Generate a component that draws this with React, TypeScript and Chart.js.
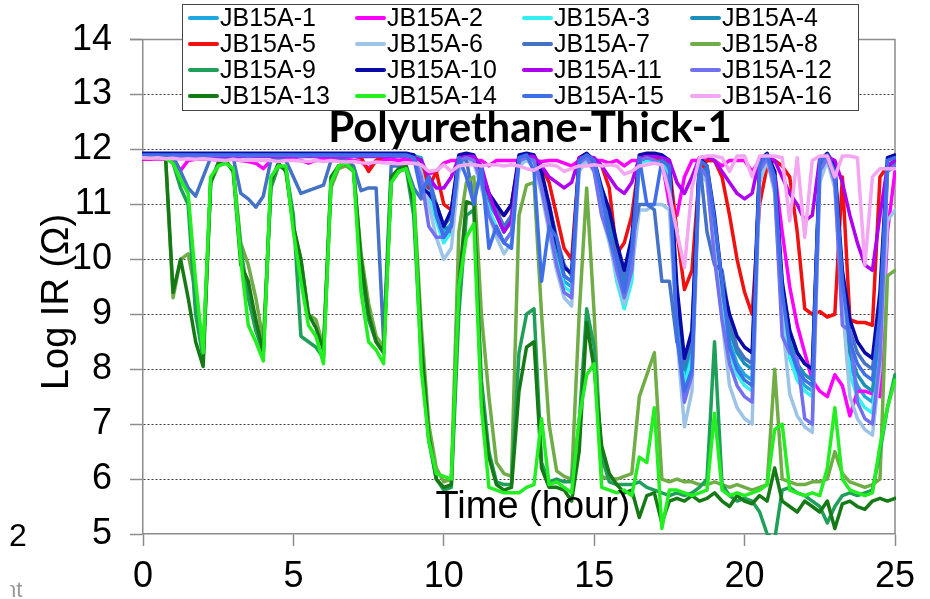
import React, { useEffect, useRef } from 'react';
import { Chart, registerables } from 'chart.js';

Chart.register(...registerables);

const TIME = [
  0, 0.25, 0.5, 0.75, 1, 1.25, 1.5, 1.75, 2, 2.25, 2.5, 2.75, 3, 3.25, 3.5, 3.75,
  4, 4.25, 4.5, 4.75, 5, 5.25, 5.5, 5.75, 6, 6.25, 6.5, 6.75, 7, 7.25, 7.5, 7.75,
  8, 8.25, 8.5, 8.75, 9, 9.25, 9.5, 9.75, 10, 10.25, 10.5, 10.75, 11, 11.25, 11.5, 11.75,
  12, 12.25, 12.5, 12.75, 13, 13.25, 13.5, 13.75, 14, 14.25, 14.5, 14.75, 15, 15.25, 15.5, 15.75,
  16, 16.25, 16.5, 16.75, 17, 17.25, 17.5, 17.75, 18, 18.25, 18.5, 18.75, 19, 19.25, 19.5, 19.75,
  20, 20.25, 20.5, 20.75, 21, 21.25, 21.5, 21.75, 22, 22.25, 22.5, 22.75, 23, 23.25, 23.5, 23.75,
  24, 24.25, 24.5, 24.75, 25,
];

const SERIES_NAMES = [
  'JB15A-1', 'JB15A-2', 'JB15A-3', 'JB15A-4',
  'JB15A-5', 'JB15A-6', 'JB15A-7', 'JB15A-8',
  'JB15A-9', 'JB15A-10', 'JB15A-11', 'JB15A-12',
  'JB15A-13', 'JB15A-14', 'JB15A-15', 'JB15A-16',
];

const SERIES_COLORS = [
  '#1FA8E0', '#FF00FF', '#33F0F0', '#1A8FB8',
  '#F01010', '#9DC3E6', '#4472C4', '#70AD47',
  '#1FA05A', '#0A0AA8', '#B000F0', '#7070F0',
  '#157A15', '#22EE22', '#3F6FE8', '#F4A6F2',
];

const JB15A_1 = [
  11.9, 11.9, 11.91, 11.9, 11.9, 11.89, 11.9, 11.9, 11.9, 11.91, 11.9, 11.9, 11.9, 11.89, 11.9, 11.9,
  11.9, 11.9, 11.9, 11.89, 11.9, 11.9, 11.9, 11.9, 11.89, 11.9, 11.9, 11.9, 11.9, 11.9, 11.88, 11.9,
  11.9, 11.9, 11.89, 11.9, 11.88, 11.85, 11.3, 10.9, 10.5, 10.65, 11.8, 11.85, 11.8, 11.5, 11.0, 10.8,
  10.5, 10.7, 11.8, 11.85, 11.8, 11.4, 10.8, 10.1, 9.6, 9.5, 11.75, 11.85, 11.7, 11.0, 10.6, 9.9,
  9.5, 10.0, 11.8, 11.85, 11.85, 11.8, 11.6, 9.1, 7.9, 8.4, 11.75, 11.5, 10.5, 9.3, 8.5, 8.1,
  7.9, 7.8, 11.7, 11.85, 11.4, 9.3, 8.3, 7.9, 7.7, 7.6, 11.7, 11.85, 11.5, 9.5, 8.1, 7.7,
  7.5, 7.4, 8.6, 11.7, 11.75,
];

const JB15A_2 = [
  11.82, 11.82, 11.83, 11.82, 11.8, 11.62, 11.8, 11.82, 11.82, 11.82, 11.81, 11.82, 11.82, 11.8, 11.78, 11.75,
  11.65, 11.8, 11.82, 11.82, 11.82, 11.8, 11.75, 11.8, 11.82, 11.82, 11.82, 11.82, 11.8, 11.78, 11.65, 11.8,
  11.82, 11.82, 11.8, 11.82, 11.8, 11.75, 11.55, 11.6, 11.75, 11.8, 11.8, 11.8, 11.8, 11.8, 11.7, 11.8,
  11.8, 11.8, 11.8, 11.8, 11.8, 11.78, 11.8, 11.8, 11.75, 11.7, 11.8, 11.8, 11.8, 11.8, 11.75, 11.8,
  11.7, 11.8, 11.8, 11.8, 11.8, 11.8, 11.0, 10.8, 11.5, 11.8, 11.8, 11.8, 11.8, 11.7, 11.8, 11.8,
  11.8, 11.6, 11.8, 11.8, 11.6, 10.5, 9.5, 8.8, 8.3, 7.8, 7.6, 7.5, 7.9, 7.7, 7.15, 7.6,
  7.6, 7.55, 7.5, 10.5, 11.6,
];

const JB15A_3 = [
  11.88, 11.88, 11.89, 11.88, 11.88, 11.88, 11.87, 11.88, 11.88, 11.88, 11.88, 11.89, 11.88, 11.88, 11.87, 11.88,
  11.88, 11.88, 11.88, 11.88, 11.88, 11.87, 11.88, 11.88, 11.88, 11.88, 11.88, 11.88, 11.88, 11.87, 11.88, 11.88,
  11.88, 11.88, 11.88, 11.87, 11.85, 11.7, 11.2, 10.7, 10.3, 10.5, 11.75, 11.85, 11.8, 11.4, 10.9, 10.6,
  10.3, 10.5, 11.75, 11.85, 11.75, 11.3, 10.7, 10.0, 9.5, 9.4, 11.7, 11.85, 11.6, 10.9, 10.4, 9.6,
  9.1, 9.6, 11.75, 11.8, 11.8, 11.75, 11.5, 8.9, 7.7, 8.2, 11.7, 11.4, 10.4, 9.2, 8.3, 7.9,
  7.7, 7.6, 11.65, 11.85, 11.3, 9.2, 8.2, 7.8, 7.6, 7.5, 11.6, 11.85, 11.4, 9.4, 7.9, 7.5,
  7.3, 7.2, 8.4, 11.6, 11.7,
];

const JB15A_4 = [
  11.9, 11.91, 11.9, 11.9, 11.9, 11.9, 11.9, 11.91, 11.9, 11.9, 11.9, 11.9, 11.91, 11.9, 11.9, 11.9,
  11.9, 11.9, 11.91, 11.9, 11.9, 11.9, 11.9, 11.9, 11.9, 11.91, 11.9, 11.9, 11.9, 11.9, 11.9, 11.9,
  11.91, 11.9, 11.9, 11.9, 11.9, 11.8, 11.4, 11.0, 10.6, 10.5, 11.7, 11.85, 11.85, 11.6, 11.1, 10.8,
  10.5, 10.8, 11.8, 11.85, 11.85, 11.5, 10.9, 10.2, 9.7, 9.6, 11.8, 11.85, 11.75, 11.1, 10.7, 10.0,
  9.6, 10.1, 11.8, 11.85, 11.85, 11.8, 11.7, 9.3, 8.0, 8.5, 11.8, 11.6, 10.6, 9.4, 8.7, 8.3,
  8.1, 8.0, 11.7, 11.85, 11.5, 9.4, 8.5, 8.1, 7.9, 7.8, 11.7, 11.85, 11.6, 9.6, 8.3, 7.9,
  7.7, 7.6, 8.8, 11.7, 11.8,
];

const JB15A_5 = [
  11.88, 11.88, 11.88, 11.88, 11.88, 11.88, 11.88, 11.88, 11.88, 11.88, 11.88, 11.88, 11.88, 11.88, 11.88, 11.88,
  11.88, 11.88, 11.88, 11.88, 11.88, 11.88, 11.88, 11.88, 11.88, 11.88, 11.88, 11.88, 11.88, 11.85, 11.6, 11.8,
  11.88, 11.88, 11.88, 11.88, 11.85, 11.8, 11.3, 11.6, 11.0, 10.9, 11.8, 11.85, 11.85, 11.5, 11.2, 10.9,
  10.8, 11.0, 11.8, 11.85, 11.85, 11.7, 11.4, 10.8, 10.2, 10.0, 11.8, 11.85, 11.8, 11.7, 11.3, 10.1,
  10.3, 10.8, 11.8, 11.85, 11.85, 11.85, 11.7, 10.5, 9.45, 9.8, 11.6, 11.8, 11.8, 11.5, 10.8, 10.0,
  9.4, 9.0, 11.0, 11.7, 11.8, 11.7, 11.5, 10.5, 9.1, 9.0, 9.05, 8.95, 9.0, 11.5, 8.9, 8.85,
  8.85, 8.8, 11.5, 11.7, 11.7,
];

const JB15A_6 = [
  11.88, 11.88, 11.88, 11.88, 11.88, 11.87, 11.88, 11.88, 11.88, 11.88, 11.88, 11.88, 11.88, 11.88, 11.87, 11.88,
  11.88, 11.88, 11.88, 11.88, 11.87, 11.88, 11.88, 11.88, 11.88, 11.88, 11.88, 11.87, 11.88, 11.88, 11.88, 11.88,
  11.88, 11.87, 11.88, 11.88, 11.85, 11.6, 11.0, 10.4, 10.0, 10.2, 11.6, 11.8, 11.75, 11.3, 10.8, 10.4,
  10.1, 10.3, 11.7, 11.8, 11.7, 11.2, 10.5, 9.8, 9.3, 9.15, 11.6, 11.8, 11.6, 10.8, 10.3, 9.7,
  9.2, 9.8, 10.9, 10.9, 11.0, 11.0, 10.9, 8.6, 6.95, 7.6, 11.6, 11.4, 10.2, 8.9, 7.7, 7.3,
  7.1, 7.0, 11.4, 11.8, 11.2, 8.9, 7.55, 7.15, 6.95, 6.85, 11.4, 11.8, 11.3, 9.2, 7.5, 7.1,
  6.9, 6.8, 8.0, 10.7, 10.9,
];

const JB15A_7 = [
  11.9, 11.9, 11.9, 11.9, 11.88, 11.6, 11.3, 11.15, 11.5, 11.85, 11.85, 11.85, 11.85, 11.2, 11.1, 10.95,
  11.15, 11.8, 11.85, 11.8, 11.5, 11.2, 11.25, 11.3, 11.35, 11.8, 11.8, 11.8, 11.7, 11.25, 11.3, 11.3,
  8.5, 11.7, 11.7, 11.7, 11.3, 11.1, 11.5, 11.0, 10.6, 10.8, 11.85, 11.8, 11.1, 11.6, 11.2, 10.9,
  10.6, 10.8, 11.8, 11.85, 11.8, 11.5, 11.0, 10.4, 9.9, 9.7, 11.8, 11.85, 11.75, 11.2, 10.8, 10.2,
  9.7, 10.3, 11.0, 11.0, 10.9, 9.6, 9.6, 8.5, 8.1, 8.6, 11.8, 10.5, 9.9, 9.8, 8.9, 8.4,
  8.2, 8.1, 11.7, 11.85, 11.5, 9.5, 8.7, 8.3, 8.1, 8.0, 11.7, 11.85, 11.5, 9.7, 8.7, 8.3,
  8.1, 8.0, 9.2, 11.7, 11.75,
];

const JB15A_8 = [
  11.85, 11.85, 11.85, 11.85, 9.3, 10.0, 10.1, 9.4, 8.3, 11.4, 11.7, 11.75, 11.65, 10.3, 9.9, 9.3,
  8.5, 11.3, 11.7, 11.65, 10.6, 10.0, 9.0, 8.9, 8.4, 11.3, 11.65, 11.7, 11.6, 10.1, 9.2, 8.6,
  8.4, 11.4, 11.6, 11.65, 11.2, 8.8, 7.0, 6.2, 5.95, 6.0, 10.5, 11.4, 11.5, 9.0, 7.5, 6.3,
  6.1, 6.05, 10.8, 11.35, 11.4, 9.0, 7.0, 6.15, 6.05, 6.0, 9.0, 11.3, 9.0, 6.05, 6.0, 6.0,
  6.05, 6.1, 7.5, 7.9, 8.3, 6.0, 5.95, 6.0, 5.95, 5.95, 5.9, 5.9, 5.95, 5.9, 5.85, 5.9,
  5.85, 5.8, 5.85, 5.9, 8.0, 6.0, 5.95, 5.9, 5.9, 5.95, 5.95, 6.0, 6.5, 6.1, 5.95, 5.9,
  5.85, 5.9, 6.0, 9.7, 9.8,
];

const JB15A_9 = [
  11.88, 11.88, 11.88, 11.87, 11.75, 11.3, 11.0, 9.0, 8.2, 11.4, 11.75, 11.8, 11.6, 10.2, 9.3, 8.7,
  8.3, 11.3, 11.7, 11.65, 10.8, 8.6, 8.5, 8.4, 8.2, 11.4, 11.7, 11.75, 11.65, 9.8, 8.9, 8.5,
  8.3, 11.4, 11.6, 11.65, 10.8, 8.2, 6.7, 6.0, 5.8, 5.85, 9.0, 10.8, 10.9, 7.8, 6.5, 5.95,
  5.9, 5.9, 8.3, 9.0, 9.1, 6.3, 5.95, 6.0, 5.95, 5.95, 7.0, 9.1, 8.4, 6.4, 5.95, 5.9,
  5.9, 5.9, 5.95, 5.85, 5.8, 5.75, 5.7, 5.75, 5.7, 5.75, 5.85, 6.0, 8.5, 5.9, 5.7, 5.6,
  5.65, 5.6, 5.4, 5.0, 4.9, 5.8, 5.85, 5.75, 5.7, 5.6, 5.5, 5.2, 5.5, 5.7, 5.75, 5.7,
  5.75, 5.8, 6.5, 7.3, 7.9,
];

const JB15A_10 = [
  11.93, 11.93, 11.93, 11.93, 11.93, 11.93, 11.93, 11.93, 11.93, 11.93, 11.93, 11.93, 11.93, 11.93, 11.93, 11.93,
  11.93, 11.93, 11.93, 11.93, 11.93, 11.93, 11.93, 11.93, 11.93, 11.93, 11.93, 11.93, 11.93, 11.93, 11.93, 11.93,
  11.93, 11.93, 11.93, 11.93, 11.9, 11.3, 11.2, 11.0, 10.6, 10.9, 11.9, 11.93, 11.9, 11.6, 11.2, 11.0,
  10.8, 11.0, 11.9, 11.93, 11.9, 11.6, 11.0, 10.3, 9.85, 9.75, 11.85, 11.93, 11.8, 11.3, 10.9, 10.3,
  9.8, 10.4, 11.9, 11.93, 11.93, 11.9, 11.8, 9.5, 8.2, 8.7, 11.85, 11.7, 10.8, 9.6, 9.0, 8.6,
  8.4, 8.3, 11.8, 11.93, 11.6, 9.6, 8.7, 8.3, 8.1, 8.0, 11.8, 11.93, 11.7, 9.8, 8.9, 8.5,
  8.3, 8.2, 9.4, 11.85, 11.9,
];

const JB15A_11 = [
  11.87, 11.87, 11.87, 11.87, 11.87, 11.87, 11.87, 11.87, 11.87, 11.87, 11.87, 11.87, 11.87, 11.87, 11.87, 11.87,
  11.87, 11.87, 11.87, 11.87, 11.87, 11.87, 11.87, 11.87, 11.87, 11.87, 11.87, 11.87, 11.87, 11.87, 11.87, 11.87,
  11.87, 11.87, 11.87, 11.87, 11.85, 11.8, 11.5, 11.3, 11.3, 11.5, 11.85, 11.87, 11.87, 11.7, 11.2, 10.8,
  10.5, 10.7, 11.85, 11.87, 11.87, 11.7, 11.5, 11.4, 11.3, 11.4, 11.85, 11.87, 11.85, 11.7, 11.5, 11.3,
  11.2, 11.4, 11.85, 11.87, 11.87, 11.85, 11.8, 11.4, 11.2, 11.5, 11.85, 11.87, 11.8, 11.6, 11.4, 11.2,
  11.1, 11.2, 11.85, 11.87, 11.8, 11.5, 11.2, 11.0, 10.7, 10.8, 11.85, 11.87, 11.8, 11.4, 10.8, 10.3,
  9.9, 9.8, 10.8, 11.7, 11.8,
];

const JB15A_12 = [
  11.89, 11.89, 11.89, 11.88, 11.89, 11.89, 11.89, 11.89, 11.88, 11.89, 11.89, 11.89, 11.89, 11.89, 11.88, 11.89,
  11.89, 11.89, 11.89, 11.89, 11.89, 11.88, 11.89, 11.89, 11.89, 11.89, 11.89, 11.89, 11.88, 11.89, 11.89, 11.89,
  11.89, 11.89, 11.88, 11.89, 11.85, 11.5, 10.6, 10.4, 10.4, 10.6, 11.8, 11.85, 11.8, 11.4, 10.8, 10.5,
  10.3, 10.5, 11.8, 11.85, 11.8, 11.3, 10.6, 9.9, 9.4, 9.3, 11.75, 11.85, 11.6, 10.8, 10.4, 9.8,
  9.3, 9.8, 11.8, 11.85, 11.8, 11.7, 11.4, 8.7, 7.4, 7.9, 11.7, 11.5, 10.0, 8.9, 8.1, 7.7,
  7.5, 7.4, 11.6, 11.85, 11.3, 8.6, 8.3, 8.2, 7.1, 7.0, 11.6, 11.85, 11.4, 8.8, 8.7, 7.4,
  7.1, 7.0, 8.2, 11.6, 11.7,
];

const JB15A_13 = [
  11.88, 11.88, 11.87, 11.87, 9.4, 10.0, 9.3, 8.5, 8.05, 11.4, 11.75, 11.8, 11.6, 9.9, 9.6, 8.9,
  8.3, 11.4, 11.75, 11.6, 10.6, 10.0, 9.0, 8.75, 8.35, 11.5, 11.7, 11.75, 11.6, 10.0, 9.0, 8.5,
  8.3, 11.5, 11.65, 11.7, 11.0, 8.5, 6.8, 6.0, 5.85, 5.9, 9.5, 11.05, 11.0, 7.5, 6.4, 5.9,
  5.8, 5.85, 7.6, 8.4, 8.5, 6.2, 5.85, 5.85, 5.8, 5.6, 6.5, 8.85, 8.0, 6.6, 6.1, 5.9,
  5.75, 5.8, 5.3, 5.7, 5.75, 5.2, 5.6, 5.65, 5.6, 5.7, 5.6, 5.65, 5.75, 5.6, 5.5, 5.7,
  5.6, 5.55, 5.7, 5.6, 6.2, 5.6, 5.5, 5.4, 5.6, 5.5, 5.4, 5.6, 5.1, 5.55, 5.6, 5.5,
  5.45, 5.6, 5.65, 5.6, 5.65,
];

const JB15A_14 = [
  11.85, 11.85, 11.85, 11.84, 11.75, 11.45, 11.2, 9.6, 8.3, 11.5, 11.7, 11.75, 11.65, 10.0, 8.8, 8.5,
  8.15, 11.5, 11.7, 11.7, 10.5, 9.6, 8.8, 8.6, 8.1, 11.4, 11.7, 11.75, 11.6, 9.4, 8.5, 8.35,
  8.1, 11.4, 11.6, 11.65, 11.2, 8.0, 6.7, 6.1, 6.05, 6.0, 9.5, 10.4, 10.65, 7.3, 5.85, 5.8,
  5.75, 5.75, 5.75, 5.85, 5.9, 7.1, 5.9, 5.95, 5.85, 5.75, 7.1, 7.9, 8.1, 5.85, 5.8, 5.75,
  5.8, 5.7, 6.4, 6.3, 7.3, 5.1, 5.8, 5.8, 5.75, 5.7, 5.75, 5.8, 7.2, 5.8, 5.7, 5.75,
  5.7, 5.75, 5.8, 5.9, 6.9, 7.0, 5.8, 5.75, 5.7, 5.75, 5.7, 6.2, 7.3, 6.0, 5.8, 5.75,
  5.7, 5.75, 6.6, 7.3, 7.8,
];

const JB15A_15 = [
  11.9, 11.9, 11.9, 11.9, 11.9, 11.9, 11.9, 11.9, 11.9, 11.9, 11.9, 11.9, 11.9, 11.9, 11.9, 11.9,
  11.9, 11.9, 11.9, 11.9, 11.9, 11.9, 11.9, 11.9, 11.9, 11.9, 11.9, 11.9, 11.9, 11.9, 11.9, 11.9,
  11.9, 11.9, 11.9, 11.9, 11.85, 11.2, 11.5, 10.8, 10.4, 10.6, 11.85, 11.5, 11.0, 11.7, 10.2, 10.6,
  10.3, 10.2, 11.85, 11.9, 11.6, 9.6, 10.6, 10.4, 9.7, 9.6, 11.8, 11.9, 11.8, 11.2, 10.4, 10.0,
  9.4, 10.2, 11.85, 11.0, 11.0, 11.8, 11.7, 8.6, 7.6, 8.0, 11.8, 11.7, 10.7, 9.6, 8.4, 8.0,
  7.8, 7.7, 11.75, 11.9, 11.5, 9.4, 8.4, 8.0, 7.8, 7.7, 11.8, 11.9, 11.6, 9.6, 8.5, 8.1,
  7.9, 7.8, 9.0, 11.8, 11.85,
];

const JB15A_16 = [
  11.85, 11.84, 11.85, 11.83, 11.84, 11.82, 11.83, 11.82, 11.83, 11.82, 11.81, 11.8, 11.82, 11.8, 11.81, 11.8,
  11.8, 11.8, 11.78, 11.8, 11.8, 11.79, 11.78, 11.8, 11.78, 11.8, 11.78, 11.77, 11.78, 11.76, 11.75, 11.77,
  11.76, 11.75, 11.74, 11.75, 11.75, 11.72, 11.6, 11.62, 11.72, 11.6, 11.7, 11.72, 11.72, 11.7, 11.72, 11.72,
  11.7, 11.72, 11.7, 11.65, 11.62, 11.7, 11.72, 11.7, 11.6, 11.65, 11.7, 11.7, 11.72, 11.7, 11.72, 11.7,
  11.55, 11.6, 11.7, 11.72, 11.75, 11.72, 11.2, 10.5, 9.85, 11.3, 11.85, 11.88, 11.88, 11.85, 11.6, 11.88,
  11.88, 11.5, 11.88, 11.88, 11.88, 11.85, 10.7, 11.85, 10.4, 11.8, 11.88, 11.88, 11.5, 11.88, 11.88, 11.85,
  9.9, 11.5, 11.65, 11.65, 11.65,
];

const SERIES_VALUES = [
  JB15A_1, JB15A_2, JB15A_3, JB15A_4, JB15A_5, JB15A_6, JB15A_7, JB15A_8,
  JB15A_9, JB15A_10, JB15A_11, JB15A_12, JB15A_13, JB15A_14, JB15A_15, JB15A_16,
];

const X_MIN = 0;
const X_MAX = 25;
const X_STEP = 5;
const Y_MIN = 5;
const Y_MAX = 14;
const Y_STEP = 1;

const TITLE = 'Polyurethane-Thick-1';
const X_TITLE = 'Time (hour)';
const Y_TITLE = 'Log IR (Ω)';

const SANS = "'Liberation Sans', Arial, sans-serif";
const AXIS_COLOR = '#8c8c8c';

const overlayPlugin = {
  id: 'overlay',
  beforeDatasetsDraw(chart: any) {
    const { ctx, chartArea: a } = chart;
    ctx.save();
    ctx.strokeStyle = AXIS_COLOR;
    ctx.lineWidth = 1.5;
    ctx.beginPath();
    ctx.moveTo(a.left - 13, a.top);
    ctx.lineTo(a.right, a.top);
    ctx.lineTo(a.right, a.bottom);
    ctx.stroke();
    ctx.restore();
  },
  afterDatasetsDraw(chart: any) {
    const { ctx } = chart;
    ctx.save();
    ctx.fillStyle = '#000';
    ctx.textAlign = 'center';
    ctx.textBaseline = 'alphabetic';
    ctx.font = `bold 42px Lato, ${SANS}`;
    ctx.fillText(TITLE, 530, 142);

    ctx.font = `38px ${SANS}`;
    ctx.fillText(X_TITLE, 533, 518);

    ctx.save();
    ctx.translate(68, 302);
    ctx.rotate(-Math.PI / 2);
    ctx.fillText(Y_TITLE, 0, 0);
    ctx.restore();

    // legend
    ctx.fillStyle = '#fff';
    ctx.fillRect(182, 4, 676, 106);
    ctx.strokeStyle = '#444';
    ctx.lineWidth = 1;
    ctx.strokeRect(182.5, 4.5, 676, 106);
    const colX = [190, 357, 524, 692];
    const rowY = [18, 44, 70, 96];
    ctx.font = `25px ${SANS}`;
    ctx.textAlign = 'left';
    ctx.textBaseline = 'middle';
    SERIES_NAMES.forEach((name, i) => {
      const x = colX[i % 4];
      const y = rowY[Math.floor(i / 4)];
      ctx.strokeStyle = SERIES_COLORS[i];
      ctx.lineWidth = 4;
      ctx.lineCap = 'round';
      ctx.beginPath();
      ctx.moveTo(x, y);
      ctx.lineTo(x + 27, y);
      ctx.stroke();
      ctx.fillStyle = '#000';
      ctx.fillText(name, x + 30, y + 1);
    });

    // fragments of slide text at the lower left
    ctx.textAlign = 'left';
    ctx.textBaseline = 'alphabetic';
    ctx.fillStyle = '#000';
    ctx.font = `32px ${SANS}`;
    ctx.fillText('2', 9, 546);
    ctx.save();
    ctx.beginPath();
    ctx.rect(10, 570, 40, 29);
    ctx.clip();
    ctx.fillStyle = '#999';
    ctx.font = `22px ${SANS}`;
    ctx.fillText('nt', 4, 597);
    ctx.restore();
    ctx.restore();
  },
};

export default function App() {
  const canvasRef = useRef<HTMLCanvasElement | null>(null);

  useEffect(() => {
    const canvas = canvasRef.current;
    if (!canvas) return;
    const datasets = SERIES_VALUES.map((vals, i) => ({
      label: SERIES_NAMES[i],
      data: TIME.map((t, j) => ({ x: t, y: vals[j] })),
      borderColor: SERIES_COLORS[i],
      backgroundColor: SERIES_COLORS[i],
      borderWidth: 3.5,
      pointRadius: 0,
      tension: 0,
      borderJoinStyle: 'round' as const,
      borderCapStyle: 'round' as const,
      fill: false,
      order: SERIES_VALUES.length - i,
      clip: 1,
    }));

    const chart = new Chart(canvas, {
      type: 'line',
      data: { datasets },
      options: {
        animation: false,
        responsive: false,
        devicePixelRatio: 1,
        layout: { padding: { left: 0, right: 35, top: 32, bottom: 0 } },
        plugins: {
          legend: { display: false },
          tooltip: { enabled: false },
          title: { display: false },
        },
        scales: {
          x: {
            type: 'linear',
            min: X_MIN,
            max: X_MAX,
            ticks: { stepSize: X_STEP, color: '#000', font: { size: 36, family: SANS }, padding: 9, maxRotation: 0 },
            grid: { drawOnChartArea: false, tickLength: 12, tickColor: AXIS_COLOR, tickWidth: 1.5 },
            border: { color: AXIS_COLOR, width: 1.5 },
            afterFit: (s: any) => { s.height = 65; },
          },
          y: {
            min: Y_MIN,
            max: Y_MAX,
            ticks: { stepSize: Y_STEP, color: '#000', font: { size: 36, family: SANS }, padding: 18 },
            grid: {
              color: (c: any) => (c.tick && (c.tick.value === Y_MIN || c.tick.value === Y_MAX) ? 'rgba(0,0,0,0)' : '#3a3a3a'),
              lineWidth: 1,
              tickLength: 13,
              tickColor: AXIS_COLOR,
              tickWidth: 1.5,
              tickBorderDash: [],
            },
            border: { color: AXIS_COLOR, width: 1.5, dash: [2, 2] },
            afterFit: (s: any) => { s.width = 143; },
          },
        },
      },
      plugins: [overlayPlugin],
    });
    return () => chart.destroy();
  }, []);

  return (
    <div style={{ position: 'absolute', left: 0, top: 0, width: 930, height: 599, background: '#fff' }}>
      <canvas ref={canvasRef} width={930} height={599} style={{ display: 'block' }} />
    </div>
  );
}
